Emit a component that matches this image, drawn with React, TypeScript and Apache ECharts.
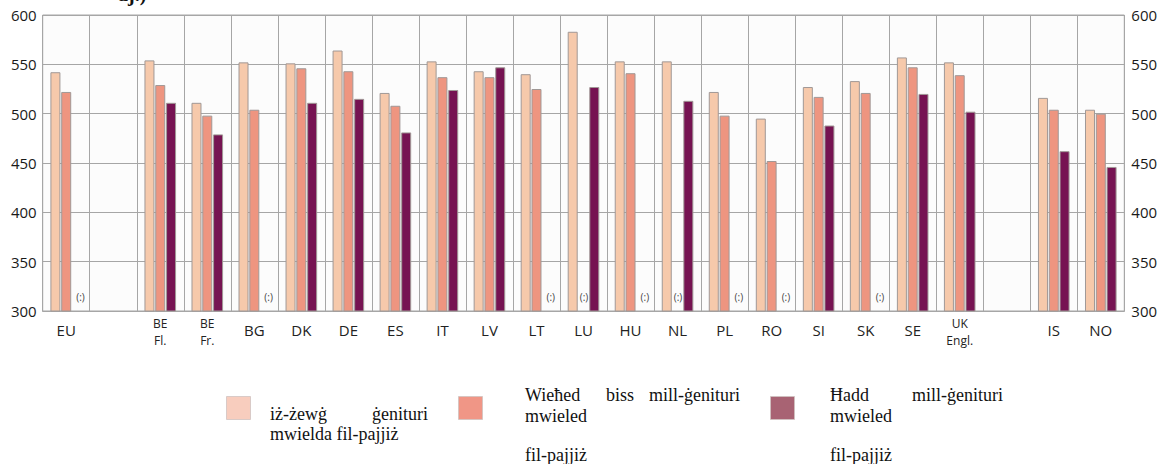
import React, { useEffect, useRef } from "react";
import * as echarts from "echarts";

const CATEGORIES = ["EU", "", "BE\nFl.", "BE\nFr.", "BG", "DK", "DE", "ES", "IT", "LV", "LT", "LU", "HU", "NL", "PL", "RO", "SI", "SK", "SE", "UK\nEngl.", "", "IS", "NO"];
const NA = "(:)";
const BOTH_NATIVE = [542, null, 554, 511, 552, 551, 564, 521, 553, 543, 540, 583, 553, 553, 522, 495, 527, 533, 557, 552, null, 516, 504];
const ONE_NATIVE = [522, null, 529, 498, 504, 546, 543, 508, 537, 537, 525, NA, 541, NA, 498, 452, 517, 521, 547, 539, null, 504, 500];
const NONE_NATIVE = [NA, null, 511, 479, NA, 511, 515, 481, 524, 547, NA, 527, NA, 513, NA, NA, 488, NA, 520, 502, null, 462, 446];
const SERIES_NAMES = ["iż-żewġ ġenituri mwielda fil-pajjiż", "Wieħed biss mill-ġenituri mwieled fil-pajjiż", "Ħadd mill-ġenituri mwieled fil-pajjiż"];
const Y_MIN = 300;
const Y_MAX = 600;
const Y_STEP = 50;

const BAR_COLORS = ["#F6C9AB", "#EE9580", "#761352"];
const LEGEND_COLORS = ["#F8CDBE", "#F09686", "#A86373"];

function buildData(values: any[], dx: number) {
  return values.map((v) => {
    if (v === NA) {
      return {
        value: Y_MIN,
        itemStyle: { color: "transparent", borderWidth: 0 },
        label: {
          show: true,
          formatter: NA,
          position: "top",
          distance: 9,
          offset: [dx, 0],
          fontSize: 10,
          fontFamily: "Open Sans",
          color: "#444",
        },
      };
    }
    return v;
  });
}

export default function App() {
  const ref = useRef<HTMLDivElement>(null);
  useEffect(() => {
    if (!ref.current) return;
    const chart = echarts.init(ref.current, undefined, { renderer: "svg" });
    const serif = "'Liberation Serif', 'Times New Roman', serif";
    const legendText = (text: string, x: number, y: number, align = "left") => ({
      type: "text",
      x,
      y,
      style: { text, fontFamily: serif, fontSize: 18, fill: "#111", align, verticalAlign: "middle" },
    });
    const swatch = (x: number, color: string) => ({
      type: "rect",
      shape: { x, y: 396.5, width: 24, height: 23 },
      style: { fill: color, stroke: "#cfc3c0", lineWidth: 0.8 },
    });
    const option: any = {
      animation: false,
      backgroundColor: "#ffffff",
      grid: {
        left: 42.7,
        right: 40.7,
        top: 15,
        bottom: 153,
        show: true,
        backgroundColor: "#fcfcfc",
        borderColor: "#a6a6a6",
        borderWidth: 1,
      },
      xAxis: {
        type: "category",
        data: CATEGORIES,
        boundaryGap: true,
        axisLine: { lineStyle: { color: "#a6a6a6" } },
        axisTick: { show: false },
        splitLine: { show: true, interval: 0, lineStyle: { color: "#a6a6a6", width: 1 } },
        axisLabel: {
          interval: 0,
          margin: 4,
          color: "#222",
          fontFamily: "Open Sans",
          formatter: (v: string) =>
            v.includes("\n")
              ? v.split("\n").map((s) => `{b|${s}}`).join("\n")
              : `{s|${v}}`,
          rich: {
            s: { fontSize: 15, lineHeight: 30, fontFamily: "Open Sans", color: "#222" },
            b: { fontSize: 12, lineHeight: 17, fontFamily: "Open Sans", color: "#222" },
          },
        },
      },
      yAxis: [
        {
          type: "value",
          min: Y_MIN,
          max: Y_MAX,
          interval: Y_STEP,
          position: "left",
          axisLine: { show: false },
          axisTick: { show: false },
          splitLine: { show: true, lineStyle: { color: "#a6a6a6", width: 1 } },
          axisLabel: { margin: 6, fontSize: 15, fontFamily: "Open Sans", color: "#1a1a1a" },
        },
        {
          type: "value",
          min: Y_MIN,
          max: Y_MAX,
          interval: Y_STEP,
          position: "right",
          axisLine: { show: false },
          axisTick: { show: false },
          splitLine: { show: false },
          axisLabel: { margin: 7, fontSize: 15, fontFamily: "Open Sans", color: "#1a1a1a" },
        },
      ],
      series: [
        { values: BOTH_NATIVE, dx: 0 },
        { values: ONE_NATIVE, dx: 0.5 },
        { values: NONE_NATIVE, dx: 3.5 },
      ].map((s, i) => ({
        type: "bar",
        name: SERIES_NAMES[i],
        data: buildData(s.values, s.dx),
        barWidth: 10,
        barGap: "8%",
        itemStyle: { color: BAR_COLORS[i], borderColor: "#a09896", borderWidth: 1 },
      })),
      graphic: [
        {
          type: "text",
          x: 118,
          y: 4,
          style: { text: "aj.)", fontFamily: serif, fontWeight: "bold", fontSize: 20, fill: "#111", verticalAlign: "bottom" },
        },
        swatch(226.5, LEGEND_COLORS[0]),
        legendText("iż-żewġ", 270, 414),
        legendText("ġenituri", 428, 414, "right"),
        legendText("mwielda fil-pajjiż", 270, 434),
        swatch(458.5, LEGEND_COLORS[1]),
        legendText("Wieħed", 525, 394.5),
        legendText("biss", 620, 394.5, "center"),
        legendText("mill-ġenituri", 740, 394.5, "right"),
        legendText("mwieled", 525, 416),
        legendText("fil-pajjiż", 525, 455),
        swatch(770.5, LEGEND_COLORS[2]),
        legendText("Ħadd", 830, 394.5),
        legendText("mill-ġenituri", 1003, 394.5, "right"),
        legendText("mwieled", 830, 416),
        legendText("fil-pajjiż", 830, 455),
      ],
    };
    chart.setOption(option);
    return () => chart.dispose();
  }, []);
  return (
    <div
      ref={ref}
      style={{ position: "fixed", left: 0, top: 0, width: 1165, height: 464 }}
    />
  );
}
